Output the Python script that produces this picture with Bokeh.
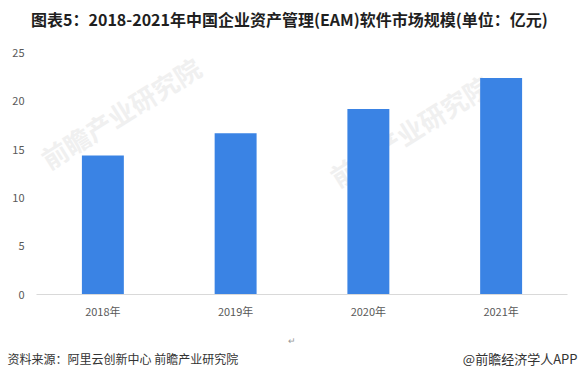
from bokeh.plotting import figure
from bokeh.models import Range1d, FactorRange, ColumnDataSource
from bokeh.layouts import column
from bokeh.core.properties import value
from bokeh.embed import file_html
from bokeh.resources import INLINE

years = ["2018年", "2019年", "2020年", "2021年"]
values = [14.4, 16.7, 19.2, 22.4]
y_ticks = [0, 5, 10, 15, 20, 25]
title_text = "图表5：2018-2021年中国企业资产管理(EAM)软件市场规模(单位：亿元)"
source_text = "资料来源：阿里云创新中心 前瞻产业研究院"
brand_text = "@前瞻经济学人APP"
watermark_text = "前瞻产业研究院"

FONT = "Noto Sans CJK SC"
W = 579


def no_align(f):
    try:
        f.frame_align = False
    except Exception:
        pass


def blank(h):
    f = figure(width=W, height=h, output_backend="svg", toolbar_location=None,
               x_range=Range1d(0, W), y_range=Range1d(h, 0),
               min_border_left=0, min_border_right=0, min_border_top=0, min_border_bottom=0,
               x_axis_type=None, y_axis_type=None)
    f.outline_line_color = None
    f.grid.grid_line_color = None
    f.border_fill_color = "white"
    f.background_fill_color = "white"
    no_align(f)
    return f


# ---- title strip ----
TH = 36
pt = blank(TH)
pt.text(x=[289], y=[18], text=[title_text], text_font=value(FONT), text_font_style="bold",
        text_font_size="16px", text_color="#1f1f1f", text_align="center", text_baseline="middle")

# ---- main chart ----
MH = 289
axis_y = 258  # px from top of main figure to y=0 line
px_per_unit = 241.5 / 25
src = ColumnDataSource(dict(x=years, top=values))
p = figure(width=W, height=MH, output_backend="svg", toolbar_location=None,
           x_range=FactorRange(*years, range_padding=0),
           y_range=Range1d(0, axis_y / px_per_unit),
           min_border_left=36, min_border_right=12, min_border_top=0,
           min_border_bottom=MH - axis_y)
p.outline_line_color = None
p.background_fill_color = "white"
p.border_fill_color = "white"
p.grid.grid_line_color = None
no_align(p)

# faint watermarks (synthetic categorical x, data y)
wm_x = [(120 - 36) / 132.75, (409 - 36) / 132.75]
wm_y = [(294 - 112) / px_per_unit, (294 - 130) / px_per_unit]
p.text(x=wm_x, y=wm_y, text=[watermark_text] * 2, angle=0.56, text_font=value(FONT),
       text_font_style="bold", text_font_size="26px", text_color="#f0f0f0",
       text_align="center", text_baseline="middle", level="underlay")

p.vbar(x="x", top="top", width=0.316, source=src, color="#3a83e4", line_color=None)

p.yaxis.ticker = y_ticks
p.yaxis.axis_line_color = None
p.yaxis.major_tick_line_color = None
p.yaxis.minor_tick_line_color = None
p.yaxis.major_label_standoff = 6
p.yaxis.major_label_text_font = FONT
p.yaxis.major_label_text_font_size = "11px"
p.yaxis.major_label_text_color = "#595959"

p.xaxis.axis_line_color = "#d9d9d9"
p.xaxis.major_tick_line_color = None
p.xaxis.minor_tick_line_color = None
p.xaxis.major_label_standoff = 2
p.xaxis.major_label_text_font = FONT
p.xaxis.major_label_text_font_size = "11px"
p.xaxis.major_label_text_color = "#595959"

# ---- footer strip ----
FH = 380 - TH - MH
pf = blank(FH)
pf.text(x=[7], y=[33], text=[source_text], text_font=value(FONT), text_font_size="12px",
        text_color="#333333", text_align="left", text_baseline="middle")
pf.text(x=[577], y=[33], text=[brand_text], text_font=value(FONT), text_font_size="13px",
        text_color="#333333", text_align="right", text_baseline="middle")
pf.text(x=[291], y=[15], text=["↵"], text_font=value(FONT), text_font_size="9px",
        text_color="#999999", text_align="center", text_baseline="middle")

layout = column(pt, p, pf, spacing=0)
open("out.html", "w").write(file_html(layout, INLINE))
